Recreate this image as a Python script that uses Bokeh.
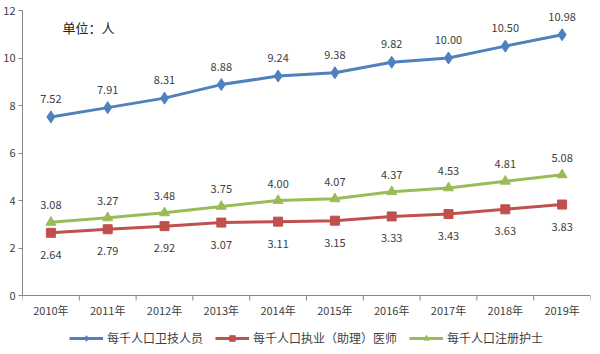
from bokeh.plotting import figure
from bokeh.models import ColumnDataSource, FixedTicker, Legend, LegendItem, Label, Range1d, LabelSet, Span
from bokeh.core.properties import value
from bokeh.embed import file_html
from bokeh.resources import INLINE

years = ["2010年", "2011年", "2012年", "2013年", "2014年", "2015年", "2016年", "2017年", "2018年", "2019年"]
health_workers = [7.52, 7.91, 8.31, 8.88, 9.24, 9.38, 9.82, 10.00, 10.50, 10.98]
doctors = [2.64, 2.79, 2.92, 3.07, 3.11, 3.15, 3.33, 3.43, 3.63, 3.83]
nurses = [3.08, 3.27, 3.48, 3.75, 4.00, 4.07, 4.37, 4.53, 4.81, 5.08]
series_names = ["每千人口卫技人员", "每千人口执业（助理）医师", "每千人口注册护士"]
y_ticks = [0, 2, 4, 6, 8, 10, 12]

FONT = "Noto Sans CJK SC"
TXT = "#404040"
AX = "#868686"
xs = list(range(len(years)))
n = len(years)

# frame spans whole height below the top margin; y=0 sits 59px above the bottom
y_min = -59 / (285 / 12)
p = figure(width=600, height=354, output_backend="svg", toolbar_location=None,
           x_range=Range1d(-0.5, n - 0.5), y_range=Range1d(y_min, 12),
           x_axis_location=None,
           min_border_left=22, min_border_right=10, min_border_top=10, min_border_bottom=0)
p.outline_line_color = None
p.xgrid.grid_line_color = None
p.ygrid.grid_line_color = None

# y axis
p.yaxis.ticker = FixedTicker(ticks=y_ticks, minor_ticks=[])
p.yaxis.bounds = (0, 12)
p.yaxis.axis_line_color = AX
p.yaxis.major_tick_line_color = AX
p.yaxis.major_tick_out = 4
p.yaxis.major_tick_in = 0
p.yaxis.minor_tick_line_color = None
p.yaxis.major_label_text_font = FONT
p.yaxis.major_label_text_font_size = "11px"
p.yaxis.major_label_text_color = TXT
p.yaxis.major_label_standoff = 3

# category axis drawn at y=0
p.add_layout(Span(location=0, dimension="width", line_color=AX, line_width=1))
bounds = [i - 0.5 for i in range(n + 1)]
p.segment(x0=bounds, y0=[0] * len(bounds), x1=bounds, y1=[-5 / (285 / 12)] * len(bounds),
          line_color=AX, line_width=1)
cat_src = ColumnDataSource(dict(x=xs, y=[0] * n, lab=years))
p.add_layout(LabelSet(x="x", y="y", text="lab", source=cat_src, text_align="center",
                      text_baseline="middle", y_offset=-14, text_font=value(FONT),
                      text_font_size=value("11px"), text_color=value(TXT)))

colors = ["#4F81BD", "#C0504D", "#9BBB59"]
data = [health_workers, doctors, nurses]
items = []
for name, vals, c, mk, offs in zip(series_names, data, colors,
                                   ["diamond", "square", "triangle"], [14, -26, 13]):
    src = ColumnDataSource(dict(x=xs, y=vals, lab=["%.2f" % v for v in vals]))
    r1 = p.line("x", "y", source=src, line_color=c, line_width=3)
    size = {"diamond": 12, "square": 9, "triangle": 10}[mk]
    r2 = p.scatter("x", "y", source=src, marker=mk, size=size, fill_color=c, line_color=c)
    p.add_layout(LabelSet(x="x", y="y", text="lab", source=src, text_align="center",
                          text_baseline="bottom", y_offset=offs, text_font=value(FONT),
                          text_font_size=value("11px"), text_color=value(TXT)))
    items.append(LegendItem(label=name, renderers=[r1, r2]))

legend = Legend(items=items, orientation="horizontal", location="bottom_center",
                label_text_font=FONT, label_text_font_size="12px", label_text_color=TXT,
                border_line_color=None, background_fill_alpha=0, glyph_width=34, glyph_height=14,
                spacing=12, padding=0, label_standoff=4, margin=8, label_height=14)
p.add_layout(legend, "center")

p.add_layout(Label(x=40, y=318, x_units="screen", y_units="screen", text="单位：人",
                   text_font=FONT, text_font_size="13px", text_color="#222222"))

open("out.html", "w").write(file_html(p, INLINE))
